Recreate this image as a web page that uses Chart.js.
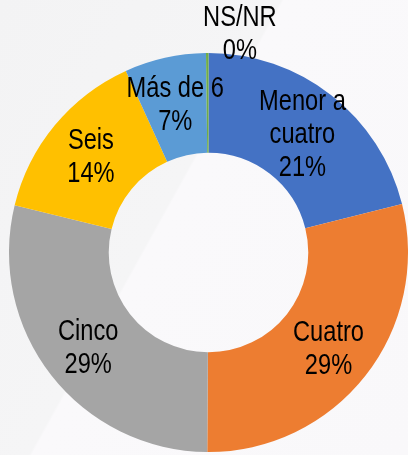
<!DOCTYPE html>
<html>
<head>
<meta charset="utf-8">
<script src="https://cdn.jsdelivr.net/npm/chart.js@4/dist/chart.umd.min.js"></script>
<style>
  html, body {
    margin: 0;
    padding: 0;
  }
  body {
    width: 408px;
    height: 455px;
    overflow: hidden;
    background: linear-gradient(119deg, #f3f3f4 0%, #f5f5f6 42.6%, #faf9fb 43%, #f9f8fa 100%);
  }
  #wrap {
    position: relative;
    width: 408px;
    height: 455px;
  }
</style>
</head>
<body>
<div id="wrap"><canvas id="donutChart"></canvas></div>
<script>
const categories = ["Menor a cuatro", "Cuatro", "Cinco", "Seis", "Más de 6", "NS/NR"];
const shares = [21.1, 29.0, 28.7, 14.4, 6.6, 0.2];
const sliceColors = ["#4472c4", "#ed7d31", "#a5a5a5", "#ffc000", "#5b9bd5", "#70ad47"];

const ctx = document.getElementById("donutChart").getContext("2d");

const FONT_SIZE = 29;
const SQUEEZE = 0.815; // narrow look like Arial Narrow
const LINE_H = 33;

// split a label into lines no wider than maxW
function wrapLabel(c, text, maxW) {
  const words = text.split(" ");
  const lines = [];
  let cur = "";
  words.forEach((w) => {
    const test = cur ? cur + " " + w : w;
    if (cur && c.measureText(test).width * SQUEEZE > maxW) {
      lines.push(cur);
      cur = w;
    } else {
      cur = test;
    }
  });
  if (cur) lines.push(cur);
  return lines;
}

// draw category + percent on each slice
const sliceLabels = {
  id: "sliceLabels",
  afterDatasetsDraw(chart) {
    const c = chart.ctx;
    const meta = chart.getDatasetMeta(0);
    const total = shares.reduce((a, b) => a + b, 0);
    c.save();
    c.font = FONT_SIZE + 'px "Liberation Sans", Arial, sans-serif';
    c.fillStyle = "#000";
    c.textAlign = "center";
    c.textBaseline = "alphabetic";
    meta.data.forEach((arc, i) => {
      const p = arc.getProps(["x", "y", "startAngle", "endAngle", "innerRadius", "outerRadius"], true);
      const mid = (p.startAngle + p.endAngle) / 2;
      const lines = wrapLabel(c, categories[i], 100);
      lines.push(Math.round((shares[i] / total) * 100) + "%");
      const widest = Math.max(...lines.map((l) => c.measureText(l).width * SQUEEZE));
      let r = (p.innerRadius + p.outerRadius) / 2 + 3;
      let cx, cy;
      if (p.endAngle - p.startAngle < 0.05) {
        // tiny slice: put label outside, beside the sliver
        r = p.outerRadius + 21;
        cx = p.x + Math.cos(mid) * r + widest / 2 - 4;
        cy = p.y + Math.sin(mid) * r;
      } else {
        cx = p.x + Math.cos(mid) * r;
        cy = p.y + Math.sin(mid) * r;
      }
      const top = cy - ((lines.length - 1) * LINE_H) / 2;
      lines.forEach((line, k) => {
        c.save();
        c.translate(cx, top + k * LINE_H + FONT_SIZE * 0.716 / 2);
        c.scale(SQUEEZE, 1);
        c.fillText(line, 0, 0);
        c.restore();
      });
    });
    c.restore();
  },
};

new Chart(ctx, {
  type: "doughnut",
  data: {
    labels: categories,
    datasets: [
      {
        data: shares,
        backgroundColor: sliceColors,
        borderWidth: 0,
      },
    ],
  },
  options: {
    responsive: true,
    maintainAspectRatio: false,
    animation: false,
    cutout: "50%",
    layout: {
      padding: { left: 9, right: 0, top: 53, bottom: 3 },
    },
    plugins: {
      legend: { display: false },
      tooltip: { enabled: false },
    },
  },
  plugins: [sliceLabels],
});
</script>
</body>
</html>
